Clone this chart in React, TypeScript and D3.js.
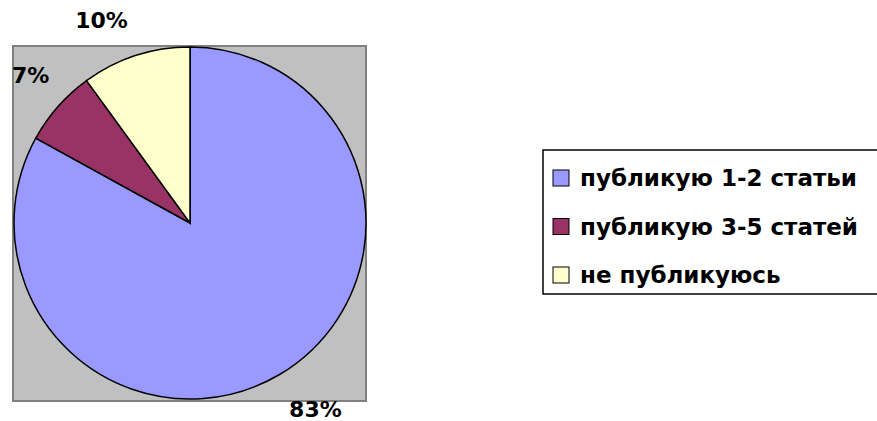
import React from "react";
import * as d3 from "d3";

const categories = ["публикую 1-2 статьи", "публикую 3-5 статей", "не публикуюсь"];
const values = [83, 7, 10];
const valueLabels = ["83%", "7%", "10%"];
const colors = ["#9999FF", "#993366", "#FFFFCC"];

// layout (not data)
const W = 877;
const H = 421;
const plot = { x: 13, y: 46, w: 353, h: 355 };
const cx = 190;
const cy = 223;
const radius = 176;
const labelRadius = 215;
const labelShift: Record<string, [number, number]> = {
  "83%": [16, 1],
  "7%": [2, -5],
  "10%": [-22, 2],
};
const FONT = "'DejaVu Sans', sans-serif";

export default function App() {
  const pie = d3
    .pie<number>()
    .sort(null)
    .value((d) => d)
    .startAngle(0)
    .endAngle(2 * Math.PI);
  const arcs = pie(values);
  const arcGen = d3.arc<d3.PieArcDatum<number>>().innerRadius(0).outerRadius(radius);

  const legendY = d3.scalePoint<string>().domain(categories).range([178, 275]);

  return (
    <svg
      width={W}
      height={H}
      style={{ position: "fixed", left: 0, top: 0, display: "block", background: "#fff" }}
    >
      <rect
        x={plot.x}
        y={plot.y}
        width={plot.w}
        height={plot.h}
        fill="#C0C0C0"
        stroke="#808080"
        strokeWidth={2}
      />
      <g transform={`translate(${cx},${cy})`}>
        {arcs.map((a, i) => (
          <path key={i} d={arcGen(a) || ""} fill={colors[i]} stroke="#000" strokeWidth={1.5} />
        ))}
      </g>
      {arcs.map((a, i) => {
        const mid = (a.startAngle + a.endAngle) / 2;
        const lbl = valueLabels[i];
        const sh = labelShift[lbl] || [0, 0];
        const x = cx + labelRadius * Math.sin(mid) + sh[0];
        const y = cy - labelRadius * Math.cos(mid) + sh[1];
        return (
          <text
            key={i}
            x={x}
            y={y}
            textAnchor="middle"
            dominantBaseline="central"
            fontFamily={FONT}
            fontWeight="bold"
            fontSize={22}
            fill="#000"
          >
            {lbl}
          </text>
        );
      })}
      <rect x={543} y={150} width={400} height={144} fill="#fff" stroke="#000" strokeWidth={1.5} />
      {categories.map((c, i) => {
        const y = legendY(c)!;
        return (
          <g key={c}>
            <rect x={553} y={y - 8} width={16} height={16} fill={colors[i]} stroke="#000" strokeWidth={1} />
            <text
              x={580}
              y={y}
              dominantBaseline="central"
              fontFamily={FONT}
              fontWeight="bold"
              fontSize={23}
              fill="#000"
            >
              {c}
            </text>
          </g>
        );
      })}
    </svg>
  );
}
